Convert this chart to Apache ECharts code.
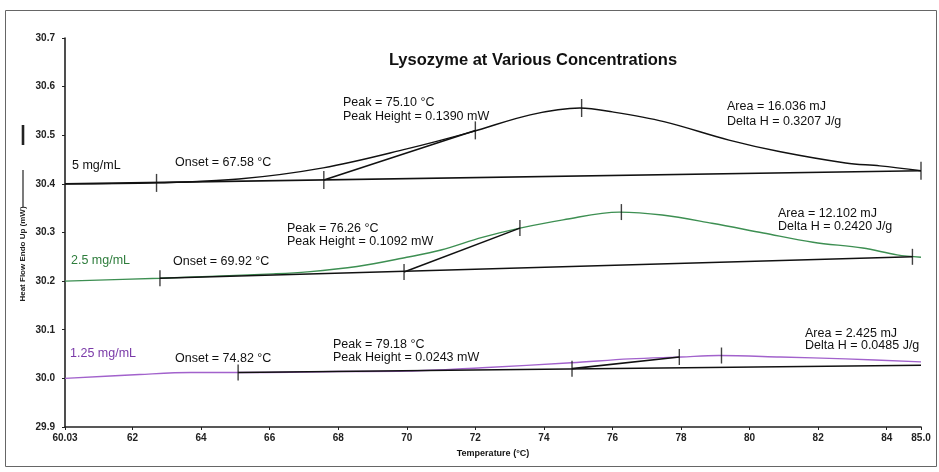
<!DOCTYPE html>
<html><head><meta charset="utf-8">
<script src="https://cdn.jsdelivr.net/npm/echarts@6/dist/echarts.min.js"></script>
<style>html,body{margin:0;padding:0;background:#fff}#c{width:939px;height:472px}</style>
</head><body><div id="c"></div>
<script>
// ---- data ----
const temps5 = [60.03, 62.7, 65.1, 67.56, 70.0, 71.9, 73.6, 75.05, 76.0, 77.5, 79.4, 80.9, 82.8, 83.8, 85.0];
const flow5  = [30.400, 30.402, 30.410, 30.433, 30.472, 30.507, 30.542, 30.556, 30.548, 30.528, 30.490, 30.466, 30.443, 30.437, 30.427];
const temps2 = [60.03, 62.8, 66.1, 67.1, 68.55, 70.0, 71.0, 72.2, 73.3, 74.56, 76.2, 77.45, 78.9, 80.4, 81.85, 83.3, 84.3, 85.0];
const flow2  = [30.200, 30.206, 30.215, 30.219, 30.230, 30.249, 30.264, 30.290, 30.309, 30.326, 30.342, 30.336, 30.319, 30.299, 30.280, 30.268, 30.254, 30.249];
const temps1 = [60.03, 62.2, 63.7, 65.1, 68.0, 70.0, 72.2, 74.8, 76.5, 78.0, 79.1, 80.9, 82.8, 85.0];
const flow1  = [30.000, 30.008, 30.012, 30.012, 30.014, 30.015, 30.022, 30.032, 30.040, 30.044, 30.047, 30.044, 30.040, 30.034];

const base5T = [60.03, 85.0],  base5V = [30.400, 30.427];
const tan5T  = [67.58, 72.0],  tan5V  = [30.408, 30.510];
const tick5T = [62.7, 67.58, 72.0, 75.10, 85.0], tick5V = [30.402, 30.408, 30.510, 30.556, 30.427];

const base2T = [62.8, 84.75],  base2V = [30.206, 30.250];
const tan2T  = [69.92, 73.3],  tan2V  = [30.219, 30.309];
const tick2T = [62.8, 69.92, 73.3, 76.26, 84.75], tick2V = [30.206, 30.219, 30.309, 30.342, 30.250];

const base1T = [65.08, 85.0],  base1V = [30.012, 30.027];
const tan1T  = [74.82, 77.95], tan1V  = [30.020, 30.044];
const tick1T = [65.08, 74.82, 77.95, 79.18], tick1V = [30.012, 30.020, 30.044, 30.047];

const xTickLabels = [60.03, 62, 64, 66, 68, 70, 72, 74, 76, 78, 80, 82, 84, 85.0];

const seriesNames = ['5 mg/mL', '2.5 mg/mL', '1.25 mg/mL'];
const annotations = [
  ['Onset = 67.58 °C'], ['Peak = 75.10 °C', 'Peak Height = 0.1390 mW'], ['Area = 16.036 mJ', 'Delta H = 0.3207 J/g'],
  ['Onset = 69.92 °C'], ['Peak = 76.26 °C', 'Peak Height = 0.1092 mW'], ['Area = 12.102 mJ', 'Delta H = 0.2420 J/g'],
  ['Onset = 74.82 °C'], ['Peak = 79.18 °C', 'Peak Height = 0.0243 mW'], ['Area = 2.425 mJ', 'Delta H = 0.0485 J/g']
];

const zip = (a, b) => a.map((v, i) => [v, b[i]]);
const FONT = '"Liberation Sans", Arial, sans-serif';

function curve(t, v, color) {
  return {type: 'line', data: zip(t, v), smooth: 0.35, showSymbol: false, symbol: 'none',
    lineStyle: {color: color, width: 1.4}, z: 3};
}
function seg(t, v) {
  return {type: 'line', data: zip(t, v), showSymbol: false, symbol: 'none',
    lineStyle: {color: '#111', width: 1.6}, z: 4};
}
function ticks(t, v, h) {
  return {type: 'scatter', data: zip(t, v), symbol: 'rect', symbolSize: [1.4, h],
    itemStyle: {color: '#111'}, z: 5};
}

const chart = echarts.init(document.getElementById('c'), null, {renderer: 'canvas'});

function txt(x, y, s, color, size, weight) {
  return {type: 'text', x: x, y: y, silent: true,
    style: {text: s, fill: color || '#111', font: (weight || 'normal') + ' ' + (size || 12.5) + 'px ' + FONT, verticalAlign: 'middle'}};
}

const graphics = [
  {type: 'rect', shape: {x: 5.5, y: 10.5, width: 931, height: 456}, style: {fill: 'none', stroke: '#666', lineWidth: 1}, silent: true},
  {type: 'text', x: 533, y: 60, silent: true,
    style: {text: 'Lysozyme at Various Concentrations', fill: '#111', font: 'bold 16.5px ' + FONT, align: 'center', verticalAlign: 'middle'}},
  {type: 'text', x: 23, y: 254, rotation: Math.PI / 2, silent: true,
    style: {text: 'Heat Flow Endo Up (mW)', fill: '#222', font: 'bold 8px ' + FONT, align: 'center', verticalAlign: 'middle'}},
  {type: 'line', shape: {x1: 23, y1: 207, x2: 23, y2: 170}, style: {stroke: '#222', lineWidth: 1.2}, silent: true},
  {type: 'line', shape: {x1: 23, y1: 145, x2: 23, y2: 125}, style: {stroke: '#222', lineWidth: 2.6}, silent: true},
  txt(72, 166, seriesNames[0], '#111'),
  txt(71, 261, seriesNames[1], '#2e7d3c'),
  txt(70, 354, seriesNames[2], '#7a3aa8'),
  txt(175, 163, annotations[0][0]),
  txt(343, 103, annotations[1][0]), txt(343, 117, annotations[1][1]),
  txt(727, 107, annotations[2][0]), txt(727, 122, annotations[2][1]),
  txt(173, 262, annotations[3][0]),
  txt(287, 229, annotations[4][0]), txt(287, 242, annotations[4][1]),
  txt(778, 214, annotations[5][0]), txt(778, 227, annotations[5][1]),
  txt(175, 359, annotations[6][0]),
  txt(333, 345, annotations[7][0]), txt(333, 358, annotations[7][1]),
  txt(805, 334, annotations[8][0]), txt(805, 346, annotations[8][1])
];

chart.setOption({
  animation: false,
  backgroundColor: '#fff',
  grid: {left: 65, right: 18, top: 38, bottom: 45},
  xAxis: {
    type: 'value', min: 60.03, max: 85.0,
    name: 'Temperature (°C)', nameLocation: 'middle', nameGap: 22,
    nameTextStyle: {fontFamily: FONT, fontSize: 9, fontWeight: 'bold', color: '#111'},
    axisLine: {lineStyle: {color: '#222', width: 1.6}},
    axisTick: {show: true, length: 3, lineStyle: {color: '#222'}, customValues: xTickLabels},
    axisLabel: {customValues: xTickLabels, fontFamily: FONT, fontSize: 10, fontWeight: 'bold', color: '#222', margin: 6,
      formatter: v => (Math.abs(v - 60.03) < 1e-6 ? '60.03' : Math.abs(v - 85) < 1e-6 ? '85.0' : String(Math.round(v)))},
    splitLine: {show: false}
  },
  yAxis: {
    type: 'value', min: 29.9, max: 30.7, interval: 0.1,
    axisLine: {show: true, lineStyle: {color: '#222', width: 1.6}},
    axisTick: {show: true, length: 3, lineStyle: {color: '#222'}},
    axisLabel: {fontFamily: FONT, fontSize: 10, fontWeight: 'bold', color: '#222', margin: 10,
      formatter: v => v.toFixed(1)},
    splitLine: {show: false}
  },
  series: [
    curve(temps5, flow5, '#111'),
    curve(temps2, flow2, '#3d8f52'),
    curve(temps1, flow1, '#a262cc'),
    seg(base5T, base5V), seg(tan5T, tan5V), ticks(tick5T, tick5V, 18),
    seg(base2T, base2V), seg(tan2T, tan2V), ticks(tick2T, tick2V, 16),
    seg(base1T, base1V), seg(tan1T, tan1V), ticks(tick1T, tick1V, 16)
  ],
  graphic: graphics
});
</script>
</body></html>
